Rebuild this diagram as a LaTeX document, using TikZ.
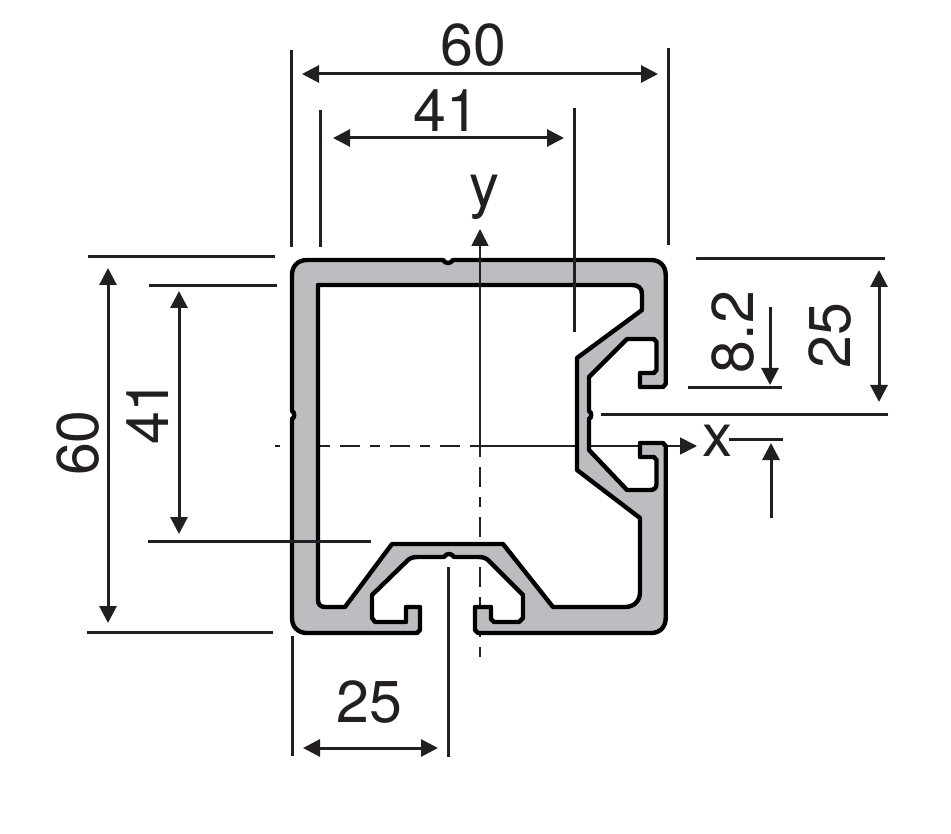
\documentclass[tikz,border=0pt]{standalone}
\usepackage{fontspec}
\setmainfont{TeX Gyre Heros}
\usetikzlibrary{arrows.meta}
\definecolor{alu}{HTML}{BBBDC0}
\definecolor{ink}{HTML}{231F20}
\tikzset{
  profile/.style={draw=black,line width=4.4pt,fill=alu,even odd rule,line join=round},
  ext/.style={draw=ink,line width=3pt},
  dimline/.style={draw=ink,line width=3pt,{Triangle[length=17pt,width=17pt]}-{Triangle[length=17pt,width=17pt]}},
  oneway/.style={draw=ink,line width=3pt,-{Triangle[length=17pt,width=17pt]}},
  axisdash/.style={draw=ink,line width=1.8pt,dash pattern=on 10pt off 10pt on 20pt off 10pt},
  axisarrow/.style={draw=ink,line width=1.8pt,-{Triangle[length=17pt,width=17pt]}},
  lab/.style={inner sep=0pt,text=ink,font=\fontsize{59}{59}\selectfont},
  axlab/.style={inner sep=0pt,text=ink,font=\fontsize{60}{60}\selectfont}
}
\begin{document}
\begin{tikzpicture}[x=1pt,y=-1pt]
\useasboundingbox (0,0) rectangle (951,834);
% axes
\coordinate (xs) at (275,446); \coordinate (xm) at (480,446); \coordinate (xe) at (697,446);
\coordinate (ys) at (480,229); \coordinate (ym) at (480,447); \coordinate (ye) at (480,657);
\draw[axisdash,dash phase=5pt] (xs) -- (xm);
\draw[axisarrow] (xm) -- (xe);
\draw[axisdash] (ym) -- (ye);
% profile
\path[profile]
  (307,260) -- (443,260) .. controls (445,264) and (451,264) .. (453,260)
  -- (651,260) .. controls (660,260) and (665.7,266) .. (665.7,275)
  -- (665.7,384) -- (663,387) -- (640,387) -- (640,373) -- (654,373)
  -- (656.5,370) -- (656.5,342) -- (654,339) -- (627,339) -- (589,377)
  -- (589,411) .. controls (592,412) and (592,418) .. (589,419)
  -- (589,450) -- (627,490) -- (650,490) .. controls (654,490) and (656.5,488) .. (656.5,484)
  -- (656.5,460) -- (654,457) -- (640,457) -- (640,443) -- (663,443) -- (665.7,446)
  -- (665.7,618) .. controls (665.7,627) and (660,633) .. (651,633)
  -- (478,633) -- (475,630) -- (475,607) -- (491,607) -- (491,619) -- (494,622)
  -- (519,622) -- (523,618) -- (523,595) -- (488,560) .. controls (485,557.5) and (482,557) .. (478,557)
  -- (454,557) .. controls (452,553) and (446,553) .. (444,557)
  -- (418,557) .. controls (414,557) and (411,557.5) .. (408,560)
  -- (372,595) -- (372,618) -- (375,622) -- (406,622) -- (406,607) -- (420,607) -- (420,630) -- (417,633)
  -- (307,633) .. controls (298,633) and (292,627) .. (292,618)
  -- (292,419) .. controls (295,418) and (295,412) .. (292,411)
  -- (292,275) .. controls (292,266) and (298,260) .. (307,260) -- cycle
  (318,285) -- (632,285) .. controls (638,285) and (642,288) .. (642,294)
  -- (642,310) -- (577,358) -- (577,470) -- (640,518) -- (640,592)
  .. controls (640,601) and (634,607) .. (625,607)
  -- (553,607) -- (503,544) -- (392,544) -- (345,607) -- (325,607)
  .. controls (320,607) and (318,604) .. (318,600) -- cycle;
\draw[axisarrow] (ym) -- (ys);
% named points
\coordinate (t60a) at (302,74); \coordinate (t60b) at (658,74);
\coordinate (t41a) at (333,138); \coordinate (t41b) at (564,138);
\coordinate (l60a) at (108,268); \coordinate (l60b) at (108,623);
\coordinate (l41a) at (179,291); \coordinate (l41b) at (179,534);
\coordinate (r25a) at (879,270); \coordinate (r25b) at (879,402);
\coordinate (b25a) at (303,748); \coordinate (b25b) at (438,748);
\coordinate (r8a) at (770,307); \coordinate (r8b) at (770,385);
\coordinate (r8c) at (771,518); \coordinate (r8d) at (771,443);
% extension lines
\draw[ext] (291,50) -- (291,247);
\draw[ext] (668,48) -- (668,245);
\draw[ext] (320,110) -- (320,247);
\draw[ext] (574,108) -- (574,332);
\draw[ext] (88,257) -- (275,257);
\draw[ext] (87,632) -- (273,632);
\draw[ext] (149,286) -- (277,286);
\draw[ext] (148,541) -- (371,541);
\draw[ext] (696,259) -- (885,259);
\draw[ext] (601,414) -- (888,414);
\draw[ext] (688,388) -- (782,388);
\draw[ext] (729,439) -- (783,439);
\draw[ext] (292,636) -- (292,756);
\draw[ext] (448,567) -- (448,757);
% dimension arrows
\draw[dimline] (t60a) -- (t60b);
\draw[dimline] (t41a) -- (t41b);
\draw[dimline] (l60a) -- (l60b);
\draw[dimline] (l41a) -- (l41b);
\draw[dimline] (r25a) -- (r25b);
\draw[dimline] (b25a) -- (b25b);
\draw[oneway] (r8a) -- (r8b);
\draw[oneway] (r8c) -- (r8d);
% labels
\node[lab] (n60t) at (473,45) {60};
\node[lab] (n41t) at (446,111) {41};
\node[lab,rotate=90] (n60l) at (78,443) {60};
\node[lab,rotate=90] (n41l) at (148,412) {41};
\node[lab,rotate=90] (n25r) at (830,336) {25};
\node[lab,rotate=90] (n82) at (733,332) {8.2};
\node[lab] (n25b) at (369,702) {25};
\node[axlab] (ny) at (484,197) {y};
\node[axlab] (nx) at (717,441) {x};
\end{tikzpicture}
\end{document}
